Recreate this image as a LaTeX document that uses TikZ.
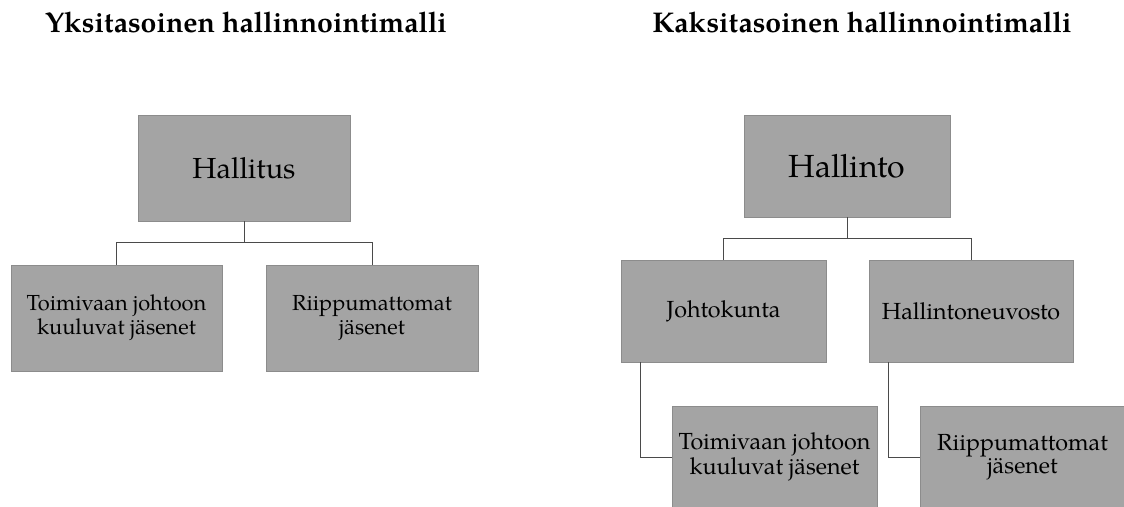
\documentclass[tikz,border=0pt]{standalone}
\usepackage{fontspec}
\setmainfont{texgyrepagella}[Extension=.otf,UprightFont=*-regular,BoldFont=*-bold,ItalicFont=*-italic,BoldItalicFont=*-bolditalic]
\definecolor{boxfill}{HTML}{A4A4A4}
\definecolor{boxline}{HTML}{8C8C8C}
\definecolor{wire}{HTML}{4A4A4A}
\tikzset{
  orgbox/.style={draw=boxline, fill=boxfill, line width=0.9pt, inner sep=0pt,
    align=center, text=black},
  wirepath/.style={draw=wire, line width=0.9pt},
  heading/.style={font=\fontsize{28.5}{34}\selectfont\bfseries, anchor=base, inner sep=0pt}
}
\begin{document}
\begin{tikzpicture}[x=1pt,y=-1pt]
  \useasboundingbox (0,0) rectangle (1124,506);
  \begin{scope}
  \clip (0,0) rectangle (1124,506);

  % headings
  \node[heading] (t1) at (246,32) {Yksitasoinen hallinnointimalli};
  \node[heading] (t2) at (862,32) {Kaksitasoinen hallinnointimalli};

  % one-tier model
  \node[orgbox, minimum width=212, minimum height=106, font=\fontsize{29}{34}\selectfont]
    (hallitus) at (244,168) {Hallitus};
  \node[orgbox, minimum width=211, minimum height=106, font=\fontsize{21.8}{24}\selectfont]
    (toim1) at (116.5,318) {Toimivaan johtoon\\kuuluvat jäsenet};
  \node[orgbox, minimum width=212, minimum height=106, font=\fontsize{21.8}{24}\selectfont]
    (riip1) at (372,318) {Riippumattomat\\jäsenet};
  \coordinate (j1) at (244,242.5);
  \draw[wirepath] (hallitus.south) -- (j1);
  \draw[wirepath] (toim1.north) |- (j1) -| (riip1.north);

  % two-tier model
  \node[orgbox, minimum width=206, minimum height=102, font=\fontsize{32}{38}\selectfont]
    (hallinto) at (847,166) {Hallinto};
  \node[orgbox, minimum width=205, minimum height=102, font=\fontsize{23.3}{26}\selectfont]
    (johto) at (723.5,311) {Johtokunta};
  \node[orgbox, minimum width=204, minimum height=102, font=\fontsize{23.3}{26}\selectfont]
    (neuvosto) at (971,311) {Hallintoneuvosto};
  \node[orgbox, minimum width=205, minimum height=102, font=\fontsize{23.3}{23.5}\selectfont]
    (toim2) at (774.5,457) {Toimivaan johtoon\\kuuluvat jäsenet};
  \node[orgbox, minimum width=205, minimum height=102, font=\fontsize{23.3}{23.5}\selectfont]
    (riip2) at (1022.5,457) {Riippumattomat\\jäsenet};
  \coordinate (j2) at (847,238.5);
  \draw[wirepath] (hallinto.south) -- (j2);
  \draw[wirepath] (johto.north) |- (j2) -| (neuvosto.north);
  \draw[wirepath] ([xshift=20]johto.south west) |- (toim2.west);
  \draw[wirepath] ([xshift=20]neuvosto.south west) |- (riip2.west);
  \end{scope}
\end{tikzpicture}
\end{document}
